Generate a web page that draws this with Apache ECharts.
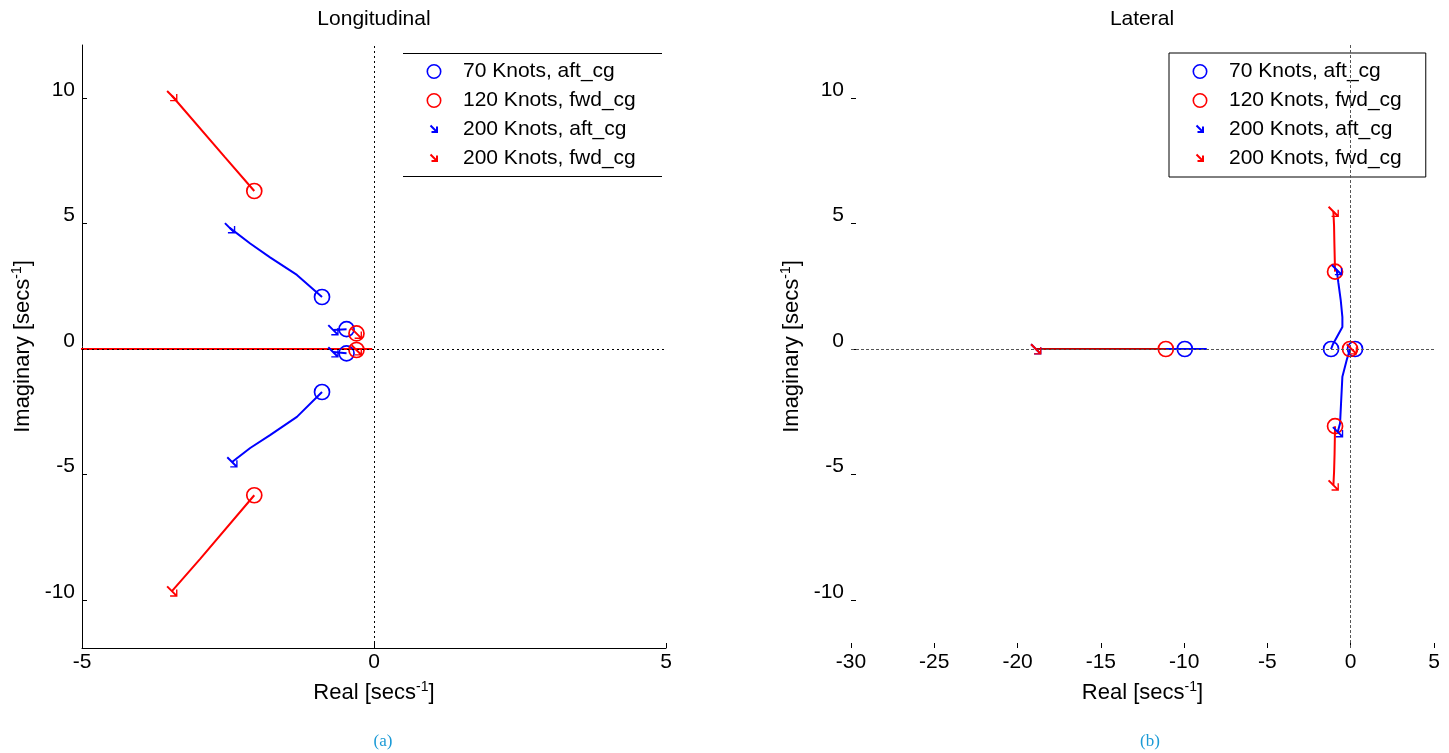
<!DOCTYPE html>
<html>
<head>
<meta charset="utf-8">
<script src="https://cdn.jsdelivr.net/npm/echarts@6/dist/echarts.min.js"></script>
<style>
html,body{margin:0;padding:0;background:#fff;}
#chart{width:1449px;height:753px;}
</style>
</head>
<body>
<div id="chart"></div>
<script>
// ---------- data ----------
const seriesNames = ['70 Knots, aft_cg', '120 Knots, fwd_cg', '200 Knots, aft_cg', '200 Knots, fwd_cg'];
const yTicks = [-10, -5, 0, 5, 10];

// Longitudinal (left)
const lonCircles70 = [[-0.89, 2.07], [-0.89, -1.71], [-0.47, 0.79], [-0.47, -0.17]];
const lonCircles120 = [[-2.05, 6.29], [-2.05, -5.82], [-0.30, 0.62], [-0.30, -0.04]];
const lonArrows200aft = [[-2.47, 4.82], [-2.43, -4.50], [-0.70, 0.76], [-0.70, -0.12]];
const lonArrows200fwd = [[-3.46, 10.08], [-3.46, -9.64], [-0.30, 0.62], [-0.30, -0.04]];
const lonLocusBlueUpper = [[-0.89, 2.07], [-1.32, 2.95], [-1.78, 3.65], [-2.12, 4.20], [-2.47, 4.82]];
const lonLocusBlueLower = [[-0.89, -1.71], [-1.32, -2.70], [-1.78, -3.43], [-2.12, -3.94], [-2.43, -4.50]];
const lonLocusBlueSmallA = [[-0.70, 0.76], [-0.47, 0.79]];
const lonLocusBlueSmallB = [[-0.70, -0.12], [-0.47, -0.17]];
const lonLocusRedUpper = [[-2.05, 6.29], [-2.55, 7.63], [-3.46, 10.08]];
const lonLocusRedLower = [[-2.05, -5.82], [-2.98, -8.36], [-3.46, -9.64]];
const lonLocusRedReal = [[-6.0, 0], [-0.03, 0]];

// Lateral (right)
const latCircles70 = [[-9.96, 0], [-1.18, 0], [0.26, 0]];
const latCircles120 = [[-11.1, 0], [-0.94, 3.08], [-0.94, -3.07], [-0.04, 0]];
const latArrows200aft = [[-18.9, 0], [-0.84, 3.15], [-0.78, -3.30]];
const latArrows200fwd = [[-18.9, 0], [-1.04, 5.47], [-1.04, -5.42], [0.05, 0]];
const latLocusBlueReal = [[-8.64, 0], [-18.9, 0]];
const latLocusRedReal = [[-11.1, 0], [-18.9, 0]];
const latLocusBlueUpper = [[-1.18, 0], [-1.06, 0.20], [-0.50, 0.88], [-0.50, 1.27], [-0.60, 1.95], [-0.74, 2.63], [-0.84, 3.15]];
const latLocusBlueLower = [[-0.04, 0], [-0.24, -0.44], [-0.50, -1.10], [-0.58, -2.16], [-0.64, -2.96], [-0.78, -3.30]];
const latLocusRedUpper = [[-0.94, 3.08], [-0.98, 4.20], [-1.00, 4.90], [-1.04, 5.47]];
const latLocusRedLower = [[-0.94, -3.07], [-0.97, -4.20], [-1.00, -4.90], [-1.04, -5.42]];

// ---------- style ----------
const BLUE = '#0000ff', RED = '#ff0000';
const FONT = "'Liberation Sans', Arial, Helvetica, sans-serif";
const ARROW = 'path://M0,1.5 L1.5,0 L10.5,9 L10.5,4 L12,4 L12,12 L4,12 L4,10.5 L9,10.5 Z';
function svgIcon(inner) {
  const svg = '<svg xmlns="http://www.w3.org/2000/svg" width="36" height="15" viewBox="0 0 36 15">' + inner + '</svg>';
  return 'image://data:image/svg+xml;charset=utf-8,' + encodeURIComponent(svg);
}
function arrowIcon(color) {
  return svgIcon('<path d="M14.5,3.5 L21,10 M21,4.5 L21,10 L15.5,10" fill="none" stroke="' + color + '" stroke-width="2"/>');
}
function circleIcon(color) {
  return svgIcon('<circle cx="18" cy="7.5" r="6.7" fill="none" stroke="' + color + '" stroke-width="1.6"/>');
}

function locus(data, color, idx) {
  return { type: 'line', data: data, xAxisIndex: idx, yAxisIndex: idx, showSymbol: false, symbol: 'none',
    lineStyle: { color: color, width: 2 }, itemStyle: { color: color }, silent: true, z: 3, animation: false };
}
function circles(name, data, color, idx) {
  return { type: 'scatter', name: name, data: data, xAxisIndex: idx, yAxisIndex: idx,
    symbol: 'circle', symbolSize: 15,
    itemStyle: { color: 'rgba(0,0,0,0)', borderColor: color, borderWidth: 1.7, opacity: 1 }, z: 4, animation: false };
}
function arrows(name, data, color, idx) {
  return { type: 'scatter', name: name, data: data, xAxisIndex: idx, yAxisIndex: idx,
    symbol: ARROW, symbolSize: 11, symbolKeepAspect: true,
    itemStyle: { color: color, opacity: 1 }, z: 5, animation: false };
}
function zeroLines(idx, color, type) {
  return { type: 'line', data: [], xAxisIndex: idx, yAxisIndex: idx, silent: true, z: 1,
    markLine: { silent: true, symbol: 'none', animation: false, label: { show: false },
      lineStyle: { color: color, type: type, width: 1 },
      data: [{ xAxis: 0 }, { yAxis: 0 }] } };
}

const supLabel = {
  rich: {
    a: { fontFamily: FONT, fontSize: 22, color: '#000' },
    s: { fontFamily: FONT, fontSize: 14, color: '#000', padding: [0, 0, 11, 0] }
  }
};

function xAxis(idx, min, max, showLine) {
  return {
    type: 'value', gridIndex: idx, min: min, max: max, interval: 5,
    name: '{a|Real [secs}{s|-1}{a|]}', nameLocation: 'middle', nameGap: 32,
    nameTextStyle: supLabel,
    axisLine: { show: showLine, onZero: false, lineStyle: { color: '#000', width: 1 } },
    axisTick: { show: true, inside: true, length: 5, lineStyle: { color: '#000' } },
    axisLabel: { fontFamily: FONT, fontSize: 21, color: '#000', margin: 4 },
    splitLine: { show: false }
  };
}
function yAxis(idx, showLine) {
  return {
    type: 'value', gridIndex: idx, min: -11.9, max: 12.1,
    name: '{a|Imaginary [secs}{s|-1}{a|]}', nameLocation: 'middle', nameGap: 47,
    nameTextStyle: supLabel,
    axisLine: { show: showLine, onZero: false, lineStyle: { color: '#000', width: 1 } },
    axisTick: { show: true, inside: true, length: 5, customValues: yTicks, lineStyle: { color: '#000' } },
    axisLabel: { fontFamily: FONT, fontSize: 21, color: '#000', margin: 7, customValues: yTicks,
      verticalAlign: 'bottom', lineHeight: 16 },
    splitLine: { show: false }
  };
}

const legendData = [
  { name: seriesNames[0], icon: circleIcon(BLUE) },
  { name: seriesNames[1], icon: circleIcon(RED) },
  { name: seriesNames[2], icon: arrowIcon(BLUE) },
  { name: seriesNames[3], icon: arrowIcon(RED) }
];
function legend(left, border) {
  return {
    orient: 'vertical', left: left, top: 53, data: legendData,
    itemWidth: 36, itemHeight: 15, itemGap: 8,
    padding: [8, 24, 8, 13],
    borderColor: border ? '#000' : 'transparent', borderWidth: border ? 1 : 0,
    backgroundColor: '#fff',
    selectedMode: false,
    textStyle: { fontFamily: FONT, fontSize: 21, color: '#000', padding: [0, 0, 0, 6], width: 180 }
  };
}

const option = {
  backgroundColor: '#fff',
  animation: false,
  grid: [
    { left: 82, top: 45, width: 584, height: 603 },
    { left: 851, top: 45, width: 583, height: 603 }
  ],
  xAxis: [xAxis(0, -5, 5, true), xAxis(1, -30, 5, false)],
  yAxis: [yAxis(0, true), yAxis(1, false)],
  legend: [legend(403, false), legend(1169, true)],
  graphic: [
    { type: 'text', x: 374, y: 19, style: { text: 'Longitudinal', font: '21px ' + FONT, fill: '#000', align: 'center', verticalAlign: 'middle' } },
    { type: 'text', x: 1142, y: 19, style: { text: 'Lateral', font: '21px ' + FONT, fill: '#000', align: 'center', verticalAlign: 'middle' } },
    { type: 'text', x: 383, y: 742, style: { text: '(a)', font: "17px 'Liberation Serif', 'Times New Roman', serif", fill: '#1a9ad6', align: 'center', verticalAlign: 'middle' } },
    { type: 'text', x: 1150, y: 742, style: { text: '(b)', font: "17px 'Liberation Serif', 'Times New Roman', serif", fill: '#1a9ad6', align: 'center', verticalAlign: 'middle' } },
    { type: 'line', shape: { x1: 403, y1: 53.5, x2: 662, y2: 53.5 }, style: { stroke: '#000', lineWidth: 1 }, z: 100 },
    { type: 'line', shape: { x1: 403, y1: 176.5, x2: 662, y2: 176.5 }, style: { stroke: '#000', lineWidth: 1 }, z: 100 }
  ],
  series: [
    zeroLines(0, '#000', [2, 3]),
    locus(lonLocusRedReal, RED, 0),
    locus(lonLocusBlueUpper, BLUE, 0),
    locus(lonLocusBlueLower, BLUE, 0),
    locus(lonLocusBlueSmallA, BLUE, 0),
    locus(lonLocusBlueSmallB, BLUE, 0),
    locus(lonLocusRedUpper, RED, 0),
    locus(lonLocusRedLower, RED, 0),
    circles(seriesNames[0], lonCircles70, BLUE, 0),
    circles(seriesNames[1], lonCircles120, RED, 0),
    arrows(seriesNames[2], lonArrows200aft, BLUE, 0),
    arrows(seriesNames[3], lonArrows200fwd, RED, 0),

    zeroLines(1, '#555', [3, 2]),
    locus(latLocusBlueReal, BLUE, 1),
    locus(latLocusRedReal, '#c00000', 1),
    locus(latLocusBlueUpper, BLUE, 1),
    locus(latLocusBlueLower, BLUE, 1),
    locus(latLocusRedUpper, RED, 1),
    locus(latLocusRedLower, RED, 1),
    circles(seriesNames[0], latCircles70, BLUE, 1),
    circles(seriesNames[1], latCircles120, RED, 1),
    arrows(seriesNames[2], latArrows200aft, BLUE, 1),
    arrows(seriesNames[3], latArrows200fwd, RED, 1)
  ]
};

const chart = echarts.init(document.getElementById('chart'), null, { renderer: 'canvas' });
chart.setOption(option);
</script>
</body>
</html>
